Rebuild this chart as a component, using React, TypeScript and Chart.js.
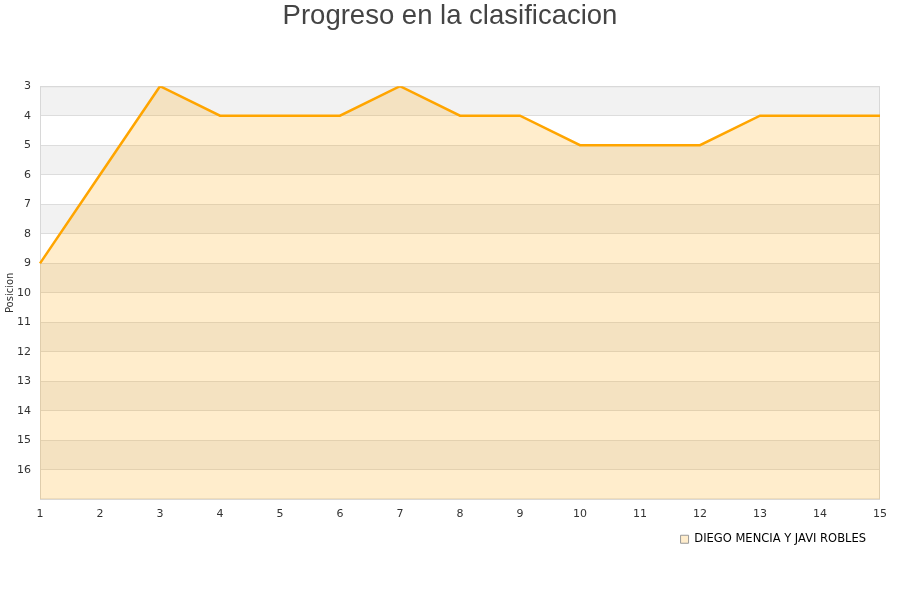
import { useEffect, useRef } from "react";
import { Chart, registerables } from "chart.js";

Chart.register(...registerables);

const jornadas = ["1", "2", "3", "4", "5", "6", "7", "8", "9", "10", "11", "12", "13", "14", "15"];
const posiciones = [9, 6, 3, 4, 4, 4, 3, 4, 4, 5, 5, 5, 4, 4, 4];
const serieNombre = "DIEGO MENCIA Y JAVI ROBLES";
const titulo = "Progreso en la clasificacion";
const ejeY = "Posicion";
const posMin = 3;
const posMax = 17;

const bandsPlugin = {
  id: "bands",
  beforeDraw(chart: any) {
    const { ctx, chartArea } = chart;
    const y = chart.scales.y;
    ctx.save();
    for (let v = posMin; v < posMax; v++) {
      const isGray = (v - posMin) % 2 === 0;
      const y1 = y.getPixelForValue(v);
      const y2 = y.getPixelForValue(v + 1);
      ctx.fillStyle = isGray ? "#f2f2f2" : "#ffffff";
      ctx.fillRect(chartArea.left, Math.min(y1, y2), chartArea.right - chartArea.left, Math.abs(y2 - y1));
    }
    ctx.restore();
  },
  beforeDatasetsDraw(chart: any) {
    const { ctx, chartArea } = chart;
    ctx.save();
    ctx.strokeStyle = "#d8d8d8";
    ctx.lineWidth = 1;
    ctx.strokeRect(chartArea.left + 0.5, chartArea.top + 0.5, chartArea.right - chartArea.left - 1, chartArea.bottom - chartArea.top - 1);
    ctx.restore();
  },
  afterDraw(chart: any) {
    const { ctx } = chart;
    ctx.save();
    ctx.fillStyle = "#444444";
    ctx.font = "27.5px 'Liberation Sans'";
    ctx.textAlign = "center";
    ctx.textBaseline = "middle";
    ctx.fillText(titulo, chart.width / 2, 16);
    ctx.restore();
  },
};

export default function App() {
  const ref = useRef<HTMLCanvasElement | null>(null);

  useEffect(() => {
    if (!ref.current) return;
    const chart = new Chart(ref.current, {
      type: "line",
      data: {
        labels: jornadas,
        datasets: [
          {
            label: serieNombre,
            data: posiciones,
            borderColor: "#FFA500",
            backgroundColor: "rgba(255,165,0,0.2)",
            borderWidth: 2.5,
            pointRadius: 0,
            pointHoverRadius: 0,
            tension: 0,
            fill: { value: posMax },
          },
        ],
      },
      options: {
        animation: false,
        responsive: false,
        layout: { padding: { left: 0, right: 20, top: 0, bottom: 45 } },
        plugins: {
          tooltip: { enabled: false },
          title: {
            display: true,
            text: " ",
            color: "#444444",
            font: { family: "Liberation Sans", size: 26, weight: "normal" },
            padding: { top: 0, bottom: 55 },
          },
          legend: {
            position: "bottom",
            align: "end",
            labels: {
              boxWidth: 8,
              boxHeight: 8,
              color: "#000000",
              padding: 14,
              font: { family: "DejaVu Sans", size: 11.5 },
              generateLabels: (c: any) =>
                c.data.datasets.map((d: any, i: number) => ({
                  text: d.label,
                  fillStyle: "#FFEDCC",
                  strokeStyle: "#999999",
                  lineWidth: 1,
                  fontColor: "#000000",
                  datasetIndex: i,
                  hidden: false,
                })),
            },
          },
        },
        scales: {
          x: {
            offset: false,
            grid: { display: false, drawTicks: false },
            border: { display: false },
            ticks: {
              color: "#333333",
              font: { family: "DejaVu Sans", size: 11 },
              padding: 8,
              maxRotation: 0,
              autoSkip: false,
            },
            afterFit: (s: any) => {
              s.height = 20;
            },
          },
          y: {
            reverse: true,
            min: posMin,
            max: posMax,
            grid: { color: "#dddddd", drawTicks: false, lineWidth: 1 },
            border: { display: false },
            ticks: {
              stepSize: 1,
              color: "#333333",
              font: { family: "DejaVu Sans", size: 11 },
              padding: 9,
              callback: (v: any) => (v === posMax ? "" : String(v)),
            },
            title: {
              display: true,
              text: ejeY,
              color: "#333333",
              font: { family: "DejaVu Sans", size: 10 },
              padding: { top: 4, bottom: 0 },
            },
            afterFit: (s: any) => {
              s.width = 40;
            },
          },
        },
      },
      plugins: [bandsPlugin],
    });
    return () => chart.destroy();
  }, []);

  return (
    <div style={{ position: "absolute", left: 0, top: 0, width: 900, height: 600, background: "#fff" }}>
      <canvas ref={ref} width={900} height={600} style={{ width: 900, height: 600 }} />
    </div>
  );
}
